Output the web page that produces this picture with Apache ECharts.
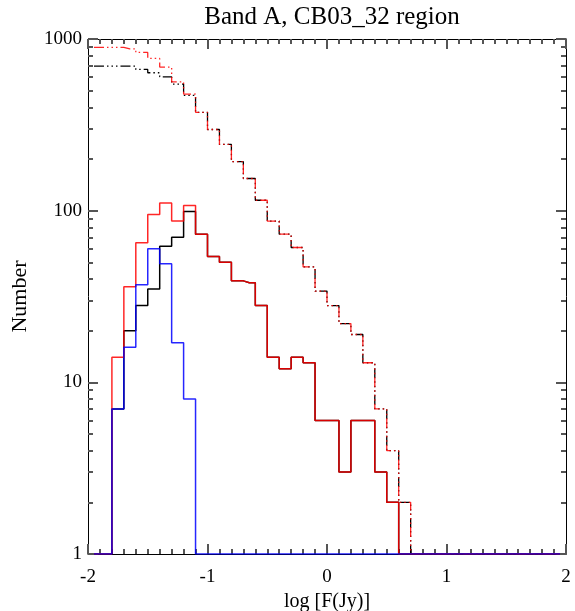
<!DOCTYPE html>
<html>
<head>
<meta charset="utf-8">
<script src="https://cdn.jsdelivr.net/npm/echarts@6/dist/echarts.min.js"></script>
<style>html,body{margin:0;padding:0;background:#fff;}#c{width:575px;height:611px;}</style>
</head>
<body>
<div id="c"></div>
<script>
// Bin centres (log F, bin width 0.1)
const binCenters = [-1.95,-1.85,-1.75,-1.65,-1.55,-1.45,-1.35,-1.25,-1.15,-1.05,
  -0.95,-0.85,-0.75,-0.65,-0.55,-0.45,-0.35,-0.25,-0.15,-0.05,
  0.05,0.15,0.25,0.35,0.45,0.55,0.65,0.75,0.85,0.95,
  1.05,1.15,1.25,1.35,1.45,1.55,1.65,1.75,1.85,1.95];

// Cumulative counts (dash-dot curves)
const redCumulative = [894,894,894,877,835,771,686,563,478,374,297,243,193,154,115,87,73,61,47,34,28,22,19,13,7,4,2,0,0,0,0,0,0,0,0,0,0,0,0,0];
const blackCumulative = [695,695,695,695,665,636,602,546,470,374,297,243,193,154,115,87,73,61,47,34,28,22,19,13,7,4,2,0,0,0,0,0,0,0,0,0,0,0,0,0];

// Differential counts (solid histograms)
const redCounts = [0,0,14,36,65,95,111,87,107,73,54,50,39,38,28,14,12,14,13,6,6,3,6,6,3,2,0,0,0,0,0,0,0,0,0,0,0,0,0,0];
const blackCounts = [0,0,7,20,28,35,62,70,99,73,54,50,39,38,28,14,12,14,13,6,6,3,6,6,3,2,0,0,0,0,0,0,0,0,0,0,0,0,0,0];
const blueCounts = [0,0,7,16,37,60,49,17,8,0,0,0,0,0,0,0,0,0,0,0,0,0,0,0,0,0,0,0,0,0,0,0,0,0,0,0,0,0,0,0];

// Axis ticks
const yMajorTickValues = [1,10,100,1000];
const yMinorTickValues = [2,3,4,5,6,7,8,9,20,30,40,50,60,70,80,90,200,300,400,500,600,700,800,900];
const xTickValues = [-2,-1,0,1,2];

const FONT = 'Liberation Serif';
const toPairs = arr => binCenters.map((x,i)=>[x, Math.max(arr[i],1)]);
const minorLog = yMinorTickValues.map(v=>Math.log10(v));
const majorLog = yMajorTickValues.map(v=>Math.log10(v));
const TICK = '#555';

function xAx(pos, labels){
  return {type:'value',min:xTickValues[0],max:xTickValues[xTickValues.length-1],interval:1,position:pos,
    axisLine:{show:true,onZero:false,lineStyle:{color:'#000'}},
    axisTick:{show:true,inside:true,length:10,lineStyle:{color:TICK,width:2}},
    minorTick:{show:true,splitNumber:10,length:5,lineStyle:{color:TICK,width:2}},
    splitLine:{show:false},
    axisLabel:{show:true,margin:14,fontFamily:FONT,fontSize:19,color:'#000',
      formatter: v => labels ? String(v) : ''},
    name: labels ? 'log [F(Jy)]' : '', nameLocation:'middle', nameGap:32,
    nameTextStyle:{fontFamily:FONT,fontSize:20,color:'#000'}};
}
function yT(pos, custom, len, labels){
  return {type:'value',min:0,max:3,position:pos,axisLine:{show:false,onZero:false},
    axisTick:{show:true,inside:true,length:len,customValues:custom,lineStyle:{color:TICK,width:2}},
    axisLabel:{show:true,customValues:custom,margin:6,fontFamily:FONT,fontSize:19,color:'#000',
      formatter: v => labels ? String(Math.round(Math.pow(10,v))) : ''},
    splitLine:{show:false}};
}

const chart = echarts.init(document.getElementById('c'));
chart.setOption({
  animation:false,
  title:{text:'Band A, CB03_32 region', left:327, textAlign:'center', top:0,
    textStyle:{fontFamily:FONT,fontSize:25,fontWeight:'normal',color:'#000'}},
  grid:{left:88,right:9,top:39,bottom:57,outerBoundsMode:'none'},
  xAxis:[xAx('bottom',true), xAx('top',false)],
  yAxis:[
    {type:'log',min:1,max:1000,axisLine:{show:true,onZero:false,lineStyle:{color:'#000'}},
     axisTick:{show:false},axisLabel:{show:false},splitLine:{show:false},
     name:'Number',nameLocation:'middle',nameGap:57,
     nameTextStyle:{fontFamily:FONT,fontSize:22,color:'#000'}},
    {type:'log',min:1,max:1000,position:'right',axisLine:{show:true,onZero:false,lineStyle:{color:'#000'}},
     axisTick:{show:false},axisLabel:{show:false},splitLine:{show:false}},
    yT('left',majorLog,10,true), yT('right',majorLog,10,false),
    yT('left',minorLog,5,false), yT('right',minorLog,5,false)
  ],
  series:[
    {type:'line',step:'middle',symbol:'none',data:toPairs(blackCumulative),
     lineStyle:{color:'#000',width:1.3,type:[10,3,1.5,3,1.5,3,1.5,3]}},
    {type:'line',step:'middle',symbol:'none',data:toPairs(redCumulative),
     lineStyle:{color:'#ff0000',width:1.3,opacity:0.85,type:[10,3,1.5,3,1.5,3,1.5,3]}},
    {type:'line',step:'middle',symbol:'none',data:toPairs(blackCounts),
     lineStyle:{color:'#000',width:1.5}},
    {type:'line',step:'middle',symbol:'none',data:toPairs(redCounts),
     lineStyle:{color:'#ff0000',width:1.5,opacity:0.85}},
    {type:'line',step:'middle',symbol:'none',data:toPairs(blueCounts),
     lineStyle:{color:'#0000ff',width:1.5,opacity:0.85}}
  ]
});
</script>
</body>
</html>
